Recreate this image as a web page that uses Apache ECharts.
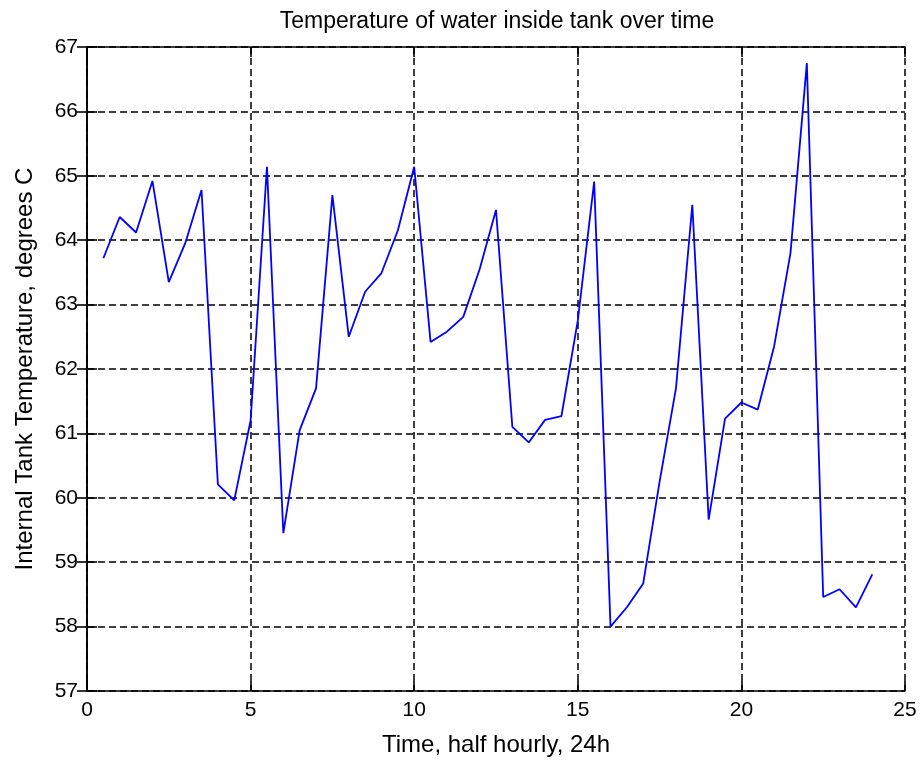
<!DOCTYPE html>
<html>
<head>
<meta charset="utf-8">
<script src="https://cdn.jsdelivr.net/npm/echarts@6/dist/echarts.min.js"></script>
<style>
html,body{margin:0;padding:0;background:#fff;}
#chart{width:922px;height:763px;}
</style>
</head>
<body>
<div id="chart"></div>
<script>
var titleText = 'Temperature of water inside tank over time';
var xAxisName = 'Time, half hourly, 24h';
var yAxisName = 'Internal Tank Temperature, degrees C';
var times = [0.5,1,1.5,2,2.5,3,3.5,4,4.5,5,5.5,6,6.5,7,7.5,8,8.5,9,9.5,10,10.5,11,11.5,12,12.5,13,13.5,14,14.5,15,15.5,16,16.5,17,17.5,18,18.5,19,19.5,20,20.5,21,21.5,22,22.5,23,23.5,24];
var temps = [63.72,64.36,64.12,64.92,63.35,63.95,64.78,60.21,59.96,61.2,65.14,59.45,61.05,61.7,64.7,62.5,63.2,63.49,64.15,65.14,62.42,62.58,62.81,63.55,64.47,61.1,60.86,61.21,61.27,62.75,64.91,58.0,58.3,58.67,60.25,61.7,64.55,59.66,61.23,61.48,61.37,62.35,63.8,66.75,58.46,58.58,58.3,58.81];
var xMin = 0, xMax = 25, xStep = 5;
var yMin = 57, yMax = 67, yStep = 1;

var font = 'Liberation Sans, Arial, sans-serif';
var seriesData = times.map(function(t, i){ return [t, temps[i]]; });

var chart = echarts.init(document.getElementById('chart'), null, {renderer:'canvas'});
var gridLine = {show:true, lineStyle:{color:'#000', type:[7,4], width:1.5}};
var axLine = {show:true, lineStyle:{color:'#000', width:1.6}};
var tick = {show:true, inside:true, length:10, lineStyle:{color:'#000', width:1.6}};
chart.setOption({
  animation:false,
  backgroundColor:'#fff',
  title:{text:titleText, top:5, left:492, textAlign:'center',
    textStyle:{fontFamily:font, fontSize:23, fontWeight:'normal', color:'#000'}},
  grid:{left:87, right:17, top:47, bottom:72, containLabel:false},
  xAxis:[
    {type:'value', min:xMin, max:xMax, interval:xStep, position:'bottom',
     name:xAxisName, nameLocation:'middle', nameGap:42,
     nameTextStyle:{fontFamily:font, fontSize:24, color:'#000'},
     axisLine:axLine, axisTick:tick, splitLine:gridLine,
     axisLabel:{fontFamily:font, fontSize:21, color:'#000', margin:9}},
    {type:'value', min:xMin, max:xMax, interval:xStep, position:'top',
     axisLine:axLine, axisTick:tick, splitLine:{show:false}, axisLabel:{show:false}}
  ],
  yAxis:[
    {type:'value', min:yMin, max:yMax, interval:yStep, position:'left',
     name:yAxisName, nameLocation:'middle', nameGap:50,
     nameTextStyle:{fontFamily:font, fontSize:24, color:'#000'},
     axisLine:axLine, axisTick:tick, splitLine:gridLine,
     axisLabel:{fontFamily:font, fontSize:21, color:'#000', margin:9}},
    {type:'value', min:yMin, max:yMax, interval:yStep, position:'right',
     axisLine:axLine, axisTick:tick, splitLine:{show:false}, axisLabel:{show:false}}
  ],
  series:[{type:'line', data:seriesData, xAxisIndex:0, yAxisIndex:0,
    showSymbol:false, symbol:'none', lineStyle:{color:'#0000ff', width:1.8}, itemStyle:{color:'#0000ff'}}]
});
</script>
</body>
</html>
